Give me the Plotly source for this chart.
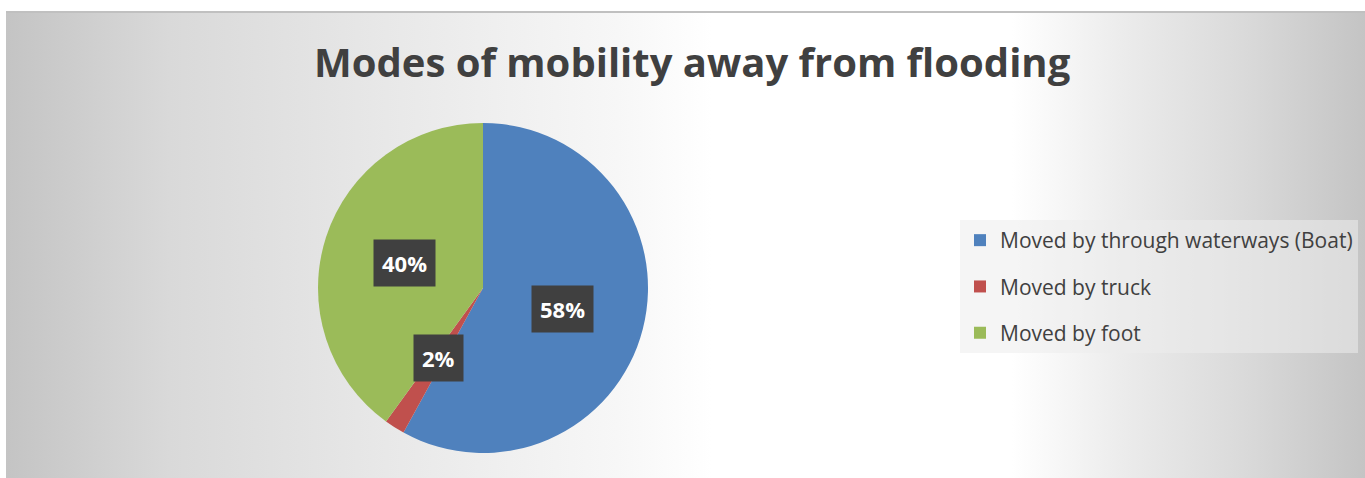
import base64, math
import plotly.graph_objects as go

W, H = 1365, 478

# ---- data ----
categories = ["Moved by through waterways (Boat)", "Moved by truck", "Moved by foot"]
values = [58, 2, 40]
colors = ["#4F81BD", "#C0504D", "#9BBB59"]
title_text = "Modes of mobility away from flooding"

# ---- layout geometry (pixels) ----
cx, cy, r = 483, 288, 165
bg_x0, bg_y0 = 6, 11

def px(x):
    return x / W

def py(y):
    return 1 - y / H

# background gradient as svg
svg = f'''<svg xmlns="http://www.w3.org/2000/svg" width="{W-bg_x0}" height="{H-bg_y0}" preserveAspectRatio="none">
<defs><linearGradient id="g" x1="0" y1="0" x2="1" y2="0">
<stop offset="0" stop-color="#c4c4c4"/>
<stop offset="0.12" stop-color="#d9d9d9"/>
<stop offset="0.28" stop-color="#e8e8e8"/>
<stop offset="0.45" stop-color="#f7f7f7"/>
<stop offset="0.52" stop-color="#ffffff"/>
<stop offset="0.74" stop-color="#ffffff"/>
<stop offset="0.82" stop-color="#ececec"/>
<stop offset="0.91" stop-color="#dadada"/>
<stop offset="1" stop-color="#c4c4c4"/>
</linearGradient></defs>
<rect x="0" y="0" width="{W-bg_x0}" height="{H-bg_y0}" fill="url(#g)"/>
<rect x="0" y="0" width="{W-bg_x0}" height="2" fill="#c0c0c0"/>
</svg>'''
src = "data:image/svg+xml;base64," + base64.b64encode(svg.encode()).decode()

fig = go.Figure()
fig.add_trace(go.Pie(
    labels=categories, values=values, sort=False, direction="clockwise", rotation=0,
    marker=dict(colors=colors, line=dict(width=0)),
    textinfo="none", hoverinfo="label+percent", showlegend=False,
    domain=dict(x=[px(cx - r), px(cx + r)], y=[py(cy + r), py(cy - r)]),
))

# legend entries (one group each so they can be spaced out)
for i, (c, col) in enumerate(zip(categories, colors)):
    fig.add_trace(go.Scatter(
        x=[None], y=[None], mode="markers", name=c, legendgroup=str(i),
        marker=dict(symbol="square", size=14, color=col),
    ))

# data labels placed at half radius along slice mid-angle
total = sum(values)
cum = 0
annotations = []
for v in values:
    mid = (cum + v / 2) / total * 2 * math.pi
    cum += v
    lx = cx + 0.5 * r * math.sin(mid)
    ly = cy - 0.5 * r * math.cos(mid)
    annotations.append(dict(
        x=px(lx), y=py(ly), xref="paper", yref="paper", xanchor="center", yanchor="middle",
        text=f"<b>{round(v / total * 100)}%</b>", showarrow=False,
        font=dict(family="Open Sans", size=22, color="white"),
        bgcolor="#404040", borderpad=8,
    ))

annotations.append(dict(
    x=px(692), y=py(62), xref="paper", yref="paper", text=f"<b>{title_text}</b>",
    showarrow=False, font=dict(family="Open Sans", size=40, color="#404040"),
    xanchor="center", yanchor="middle",
))

fig.update_layout(
    width=W, height=H, margin=dict(l=0, r=0, t=0, b=0),
    paper_bgcolor="white", plot_bgcolor="rgba(0,0,0,0)",
    xaxis=dict(visible=False), yaxis=dict(visible=False),
    images=[dict(source=src, xref="paper", yref="paper", x=px(bg_x0), y=py(bg_y0),
                 sizex=px(W - bg_x0), sizey=(H - bg_y0) / H, xanchor="left", yanchor="top",
                 sizing="stretch", layer="below")],
    legend=dict(x=px(960), y=py(220), xanchor="left", yanchor="top",
                bgcolor="rgba(236,236,236,0.55)", borderwidth=0,
                font=dict(family="Open Sans", size=21, color="#404040"),
                tracegroupgap=16, itemsizing="constant"),
    annotations=annotations,
)

fig.write_html("out.html")
